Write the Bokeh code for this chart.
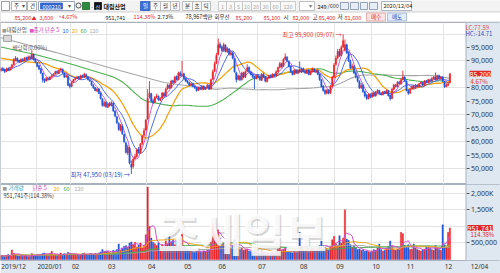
import numpy as np
import pandas as pd
from bokeh.plotting import figure
from bokeh.layouts import column
from bokeh.models import Range1d, FixedTicker, Label, Grid, NumeralTickFormatter, ColumnDataSource, Span
from bokeh.embed import file_html
from bokeh.resources import INLINE

# ---------------- data ----------------
months = ["2019/12", "2020/01", "02", "03", "04", "05", "06", "07", "08", "09", "10", "11", "12"]
month_days = [20, 19, 20, 22, 20, 19, 22, 23, 20, 20, 19, 21, 4]
last_date_label = "12/04"

open_k = [
    86.5, 87.2, 86.8, 86.2, 87.3, 86.6, 87.6, 88.6, 90.2, 91.0, 90.2, 89.6, 90.6, 90.1, 91.2, 90.6, 91.6, 90.8, 92.4, 90.6,
    89.3, 88.2, 87.1, 85.4, 83.2, 82.6, 83.6, 83.1, 84.0, 84.6, 85.1, 86.1, 85.4, 86.6, 86.9, 85.4, 84.0, 84.3, 81.2,
    80.6, 82.1, 83.0, 83.6, 84.1, 83.4, 84.6, 83.9, 85.0, 84.1, 83.0, 82.4, 81.0, 80.1, 78.8, 79.6, 78.1, 75.9, 73.3, 74.6,
    72.8, 74.2, 73.4, 74.3, 71.3, 69.2, 66.8, 64.3, 65.8, 62.6, 59.5, 55.8, 57.5, 51.5, 50.8, 53.8, 54.5, 57.2, 55.8, 59.3, 62.4, 64.3,
    68.5, 76.5, 77.8, 75.2, 74.6, 76.6, 76.8, 75.4, 76.2, 78.0, 77.0, 79.6, 81.0, 80.0, 82.6, 82.0, 84.2, 83.0, 85.6, 84.6,
    85.2, 83.6, 82.6, 82.0, 81.0, 81.6, 80.6, 80.0, 79.0, 80.1, 79.4, 80.6, 79.4, 80.1, 81.0, 79.6, 83.2, 86.2, 89.2,
    92.5, 96.2, 95.2, 93.8, 95.8, 93.4, 94.4, 92.3, 93.0, 90.8, 85.6, 83.2, 84.4, 83.0, 85.6, 84.0, 86.2, 87.6, 86.0, 85.0, 84.1, 83.4,
    84.6, 84.1, 82.8, 85.0, 84.0, 82.4, 83.6, 84.6, 84.0, 85.0, 84.4, 86.1, 87.6, 89.0, 88.0, 90.6, 91.4, 89.8, 88.0, 86.0, 85.0, 86.6, 85.4,
    86.6, 85.8, 87.2, 86.0, 85.4, 86.6, 85.0, 86.0, 87.0, 85.8, 86.5, 85.0, 83.0, 80.6, 79.0, 78.0, 79.2, 78.0, 80.6, 84.0,
    88.8, 91.2, 93.6, 92.0, 95.2, 94.0, 96.0, 93.2, 90.0, 87.4, 88.0, 85.6, 84.0, 82.4, 80.0, 81.0, 78.5, 77.2, 76.0, 77.5,
    76.6, 78.1, 77.0, 78.4, 79.0, 78.0, 77.5, 78.6, 78.0, 79.0, 77.2, 76.0, 79.4, 81.0, 80.5, 82.1, 81.5, 83.1, 84.0,
    82.5, 79.0, 78.0, 79.6, 80.5, 80.0, 81.0, 80.4, 81.6, 82.0, 81.0, 82.6, 82.0, 83.0, 82.6, 83.4, 84.0, 83.0, 84.6, 83.4, 84.0,
    82.3, 80.4, 81.0, 82.0,
]
high_k = [
    87.6, 87.8, 87.2, 87.5, 87.6, 87.9, 88.9, 91.0, 91.8, 91.3, 90.5, 91.0, 91.0, 91.5, 91.6, 92.0, 92.0, 94.0, 92.8, 90.9,
    89.6, 88.5, 87.4, 85.6, 83.5, 84.0, 83.9, 84.4, 85.0, 85.5, 86.4, 86.5, 86.9, 87.5, 87.2, 85.7, 85.0, 84.6, 81.8,
    82.4, 83.3, 83.9, 84.5, 84.4, 84.9, 84.9, 85.6, 85.3, 84.2, 83.3, 82.6, 81.3, 80.3, 79.9, 79.9, 78.3, 76.1, 75.2, 75.0,
    74.4, 74.8, 75.0, 74.6, 71.8, 69.6, 67.2, 66.5, 66.4, 63.0, 60.0, 58.8, 58.0, 53.0, 54.0, 55.5, 57.5, 58.0, 59.5, 62.5, 65.0, 68.5,
    79.5, 82.5, 78.2, 76.0, 77.0, 77.8, 77.2, 76.5, 78.5, 78.4, 80.0, 81.5, 81.3, 83.0, 83.0, 84.5, 84.6, 86.0, 86.2, 90.0,
    85.6, 84.0, 83.0, 82.3, 82.0, 81.9, 80.9, 80.3, 80.4, 80.5, 81.0, 80.9, 80.4, 81.5, 81.3, 83.4, 86.8, 89.8, 93.0,
    98.3, 97.0, 95.8, 96.8, 96.2, 95.2, 94.8, 93.6, 93.4, 91.0, 86.0, 85.0, 84.8, 86.0, 86.0, 86.5, 88.8, 88.0, 86.4, 85.5, 84.6, 84.9,
    85.0, 84.5, 85.5, 85.6, 84.3, 83.9, 84.9, 85.0, 85.4, 85.3, 86.5, 87.9, 89.6, 89.4, 91.0, 92.8, 91.8, 90.2, 88.3, 86.4, 86.9, 87.0, 87.0,
    89.8, 87.6, 87.5, 86.4, 87.0, 86.9, 86.5, 87.6, 87.3, 86.9, 86.8, 85.3, 83.2, 81.0, 79.5, 79.6, 79.5, 81.0, 84.5, 89.2,
    92.0, 94.5, 94.5, 95.8, 99.9, 98.0, 96.4, 93.6, 90.5, 89.0, 88.4, 86.0, 84.5, 82.8, 81.8, 81.4, 79.0, 77.8, 78.0, 78.0,
    78.4, 78.5, 78.8, 79.5, 79.3, 78.3, 78.8, 78.9, 79.4, 79.2, 77.5, 79.9, 81.5, 81.4, 82.5, 82.6, 83.5, 86.4, 84.3,
    82.8, 79.5, 79.9, 80.9, 81.0, 81.4, 81.3, 81.8, 82.4, 82.3, 82.9, 82.9, 83.4, 83.3, 84.0, 84.4, 85.7, 84.9, 84.9, 84.4, 84.3,
    82.6, 81.8, 82.0, 85.4,
]
low_k = [
    86.0, 86.2, 85.5, 85.8, 86.2, 86.4, 87.3, 88.4, 89.9, 89.7, 89.2, 89.3, 89.8, 89.9, 90.2, 90.4, 90.8, 90.7, 90.2, 89.2,
    87.7, 86.6, 85.1, 82.0, 81.8, 82.3, 82.7, 82.9, 83.8, 84.3, 84.9, 85.2, 85.2, 86.3, 85.2, 83.7, 83.8, 80.6, 79.8,
    80.2, 81.8, 82.7, 83.3, 83.2, 83.1, 83.7, 83.7, 83.8, 82.8, 82.2, 80.8, 79.6, 78.7, 78.5, 77.7, 75.7, 73.0, 73.0, 72.6,
    72.5, 73.0, 73.1, 71.0, 69.0, 66.5, 64.0, 63.8, 62.5, 59.5, 55.5, 55.0, 51.5, 47.95, 50.0, 53.0, 54.0, 55.5, 55.5, 58.8, 61.8, 64.0,
    68.0, 76.0, 74.6, 74.0, 74.3, 76.2, 75.2, 75.0, 75.9, 76.8, 76.8, 79.3, 79.6, 79.8, 81.6, 81.8, 82.8, 82.8, 84.2, 84.3,
    83.2, 82.2, 81.5, 80.6, 80.7, 80.2, 79.6, 78.6, 78.8, 79.1, 79.1, 79.2, 79.2, 79.8, 79.2, 79.4, 82.9, 85.8, 88.8,
    92.0, 94.6, 93.4, 93.4, 93.2, 93.0, 92.0, 92.0, 90.6, 85.6, 82.0, 82.8, 82.5, 82.7, 83.6, 83.6, 85.8, 85.7, 84.6, 83.6, 79.6, 83.1,
    83.6, 82.6, 82.5, 83.6, 82.0, 82.0, 83.3, 83.6, 83.7, 84.2, 84.2, 85.8, 87.3, 87.5, 87.8, 90.2, 89.7, 87.6, 85.7, 84.6, 84.8, 85.2, 85.1,
    85.6, 85.5, 85.7, 85.2, 85.1, 84.6, 84.7, 85.7, 85.7, 85.5, 84.7, 82.6, 80.1, 78.6, 77.4, 77.6, 77.6, 77.8, 80.3, 83.6,
    88.2, 90.6, 91.5, 91.8, 94.8, 93.5, 92.6, 89.6, 87.0, 87.0, 85.1, 83.6, 82.0, 79.6, 79.6, 78.2, 76.4, 75.5, 75.7, 76.1,
    76.3, 76.7, 76.7, 78.1, 77.6, 77.1, 77.2, 77.7, 77.7, 76.8, 75.3, 75.8, 79.1, 80.1, 80.2, 81.2, 81.2, 82.8, 82.2,
    78.7, 77.4, 77.8, 79.4, 79.7, 79.6, 80.2, 80.1, 81.4, 80.7, 80.8, 81.8, 81.7, 82.2, 82.3, 83.1, 82.8, 82.8, 83.2, 83.1, 82.2,
    80.0, 80.2, 80.6, 81.6,
]
close_k = [
    87.0, 86.5, 86.0, 87.0, 86.5, 87.5, 88.5, 90.5, 91.0, 90.0, 89.5, 90.5, 90.0, 91.0, 90.5, 91.5, 91.0, 92.5, 90.5, 89.5,
    88.0, 87.0, 85.5, 83.0, 82.5, 83.5, 83.0, 84.0, 84.5, 85.0, 86.0, 85.5, 86.5, 87.0, 85.5, 84.0, 84.5, 81.0, 80.5,
    82.0, 83.0, 83.5, 84.0, 83.5, 84.5, 84.0, 85.0, 84.0, 83.0, 82.5, 81.0, 80.0, 79.0, 79.5, 78.0, 76.0, 73.5, 74.5, 73.0,
    74.0, 73.5, 74.5, 71.5, 69.5, 67.0, 64.5, 66.0, 63.0, 60.0, 56.0, 58.0, 52.0, 50.5, 53.5, 54.5, 57.0, 56.0, 59.0, 62.0, 64.0, 68.0,
    76.0, 78.0, 75.0, 74.5, 76.5, 77.0, 75.5, 76.0, 78.0, 77.0, 79.5, 81.0, 80.0, 82.5, 82.0, 84.0, 83.0, 85.5, 84.5, 85.0,
    83.5, 82.5, 82.0, 81.0, 81.5, 80.5, 80.0, 79.0, 80.0, 79.5, 80.5, 79.5, 80.0, 81.0, 79.5, 83.0, 86.0, 89.0, 92.0,
    96.0, 95.0, 94.0, 96.0, 93.5, 94.5, 92.5, 93.0, 91.0, 86.0, 83.0, 84.5, 83.0, 85.5, 84.0, 86.0, 87.5, 86.0, 85.0, 84.0, 83.5, 84.5,
    84.0, 83.0, 85.0, 84.0, 82.5, 83.5, 84.5, 84.0, 85.0, 84.5, 86.0, 87.5, 89.0, 88.0, 90.5, 91.5, 90.0, 88.0, 86.0, 85.0, 86.5, 85.5, 86.5,
    86.0, 87.0, 86.0, 85.5, 86.5, 85.0, 86.0, 87.0, 86.0, 86.5, 85.0, 83.0, 80.5, 79.0, 78.0, 79.0, 78.0, 80.5, 84.0, 88.5,
    91.0, 93.5, 92.0, 95.0, 97.5, 96.0, 93.0, 90.0, 87.5, 88.0, 85.5, 84.0, 82.5, 80.0, 81.0, 78.5, 77.0, 76.0, 77.5, 76.5,
    78.0, 77.0, 78.5, 79.0, 78.0, 77.5, 78.5, 78.0, 79.0, 77.0, 76.0, 79.5, 81.0, 80.5, 82.0, 81.5, 83.0, 84.0, 82.5,
    79.0, 78.0, 79.5, 80.5, 80.0, 81.0, 80.5, 81.5, 82.0, 81.0, 82.5, 82.0, 83.0, 82.5, 83.5, 84.0, 83.0, 84.5, 83.5, 84.0, 82.5,
    80.5, 81.0, 81.4, 85.2,
]
volume_k = [
    120, 110, 100, 130, 150, 110, 290, 180, 140, 120, 110, 130, 100, 110, 120, 90, 100, 180, 140, 110,
    150, 130, 160, 180, 200, 170, 150, 180, 250, 130, 140, 120, 150, 200, 130, 180, 140, 220, 190,
    170, 150, 140, 160, 130, 150, 180, 200, 140, 160, 170, 180, 150, 190, 160, 200, 230, 300, 240, 260,
    250, 210, 200, 280, 260, 300, 470, 280, 350, 400, 420, 380, 500, 530, 450, 520, 380, 440, 500, 350, 420, 750,
    2190, 1000, 650, 520, 480, 420, 500, 380, 450, 400, 560, 480, 700, 520, 600, 450, 580, 420, 640, 760,
    420, 380, 300, 280, 260, 240, 220, 300, 260, 240, 220, 260, 240, 280, 300, 520, 1050, 800, 700,
    900, 650, 550, 500, 450, 400, 380, 350, 420, 600, 500, 380, 300, 350, 280, 300, 320, 260, 240, 220, 260, 230,
    200, 180, 260, 220, 180, 160, 200, 180, 220, 200, 250, 320, 380, 280, 300, 360, 260, 240, 220, 200, 230, 210, 220,
    820, 400, 300, 260, 280, 240, 300, 350, 280, 260, 300, 420, 560, 420, 380, 300, 280, 400, 600, 700,
    480, 420, 720, 500, 650, 1500, 620, 580, 450, 380, 420, 350, 300, 320, 280, 300, 250, 260, 240, 220,
    260, 300, 280, 350, 470, 300, 260, 280, 350, 400, 560, 420, 300, 280, 320, 300, 820, 780, 420,
    380, 450, 300, 320, 470, 350, 300, 280, 260, 300, 320, 380, 400, 350, 300, 280, 420, 360, 300, 280, 1050,
    450, 380, 820, 951.741,
]
ma20_head_idx = [0, 10]
ma20_head_val = [91.0, 89.9]
ma60_head_idx = [0, 20, 40]
ma60_head_val = [95.2, 92.2, 88.6]
ma120_head_idx = [0, 30, 60, 90, 105]
ma120_head_val = [98.6, 93.2, 87.5, 82.0, 80.6]

price_ticks = [50000, 55000, 60000, 65000, 70000, 75000, 80000, 90000, 95000]
price_grid = [50000, 60000, 70000, 80000, 90000, 100000]
vol_ticks = [500, 1500, 2000]
vol_tick_labels = ["500,000", "1,500K", "2,000K"]
vol_grid = [500, 1000, 1500, 2000]

# ---------------- derived ----------------
n = len(close_k)
idx = np.arange(n)
O = np.array(open_k) * 1000
H = np.array(high_k) * 1000
L = np.array(low_k) * 1000
C = np.array(close_k) * 1000
V = np.array(volume_k, dtype=float)
UP, DN = "#e8262c", "#2256d8"
col = [UP if c >= o else DN for o, c in zip(O, C)]
src = ColumnDataSource(dict(x=idx, o=O, h=H, l=L, c=C, v=V, col=col,
                            top=np.maximum(O, C), bot=np.minimum(O, C)))
cs = pd.Series(C)
vs = pd.Series(V)
starts = np.cumsum([0] + month_days[:-1])

PANEL = "#dfe7f1"
KR = "Noto Sans CJK KR"
FS = "5.5px"

X0 = -0.3
XS = 465.0 / (256.6 - X0)          # pixels per trading day
XE = X0 + 500.0 / XS               # frame spans the full width (right panel included)
P_TOP, P_BOT = 104300.0, 44050.0
PS = 162.0 / (P_TOP - P_BOT)
V_TOP, V_BOT = 2265.0, -29.0
VS = 78.0 / (V_TOP - V_BOT)


def xd(px):
    return X0 + px / XS


def yp(py):
    return P_TOP - (py - 22) / PS


def yv(py):
    return V_TOP - (py - 184) / VS


def T(fig, x, y, s, color="#222222", size=FS, align="left", bold=False, **kw):
    fig.add_layout(Label(x=x, y=y, text=s, text_color=color, text_font=KR, text_font_size=size,
                         text_align=align, text_baseline="middle",
                         text_font_style="bold" if bold else "normal", **kw))


def style_right_axis(ax):
    ax.fixed_location = xd(465.5)
    ax.axis_line_color = None
    ax.major_tick_out = 3
    ax.major_tick_in = 0
    ax.major_tick_line_color = "#555555"
    ax.minor_tick_line_color = None
    ax.major_label_text_font_size = "7px"
    ax.major_label_text_font = "Noto Sans"
    ax.major_label_text_color = "#333333"
    ax.major_label_standoff = 2


# ---------------- header (toolbar) ----------------
hdr = figure(width=500, height=22, x_range=Range1d(0, 500), y_range=Range1d(22, 0),
             x_axis_location=None, y_axis_location=None, output_backend="svg", toolbar_location=None,
             min_border=0, outline_line_color=None, background_fill_color="#f2f2f2",
             border_fill_color="#f2f2f2")
hdr.grid.visible = False
boxes = [
    (1, 9, 1, 10, "#ffffff", "#8a8a8a"),
    (11, 26, 1, 10, "#ffffff", "#a0a0a0"),
    (27, 36, 1, 10, "#ffffff", "#a0a0a0"),
    (38, 74, 1, 10, "#ffffff", "#8090a8"),
    (40, 62, 2.5, 8.5, "#3366cc", "#3366cc"),
    (82, 89, 2, 9, "#2e8b3e", "#1d6b2a"),
    (94, 101, 2, 9, "#111111", "#111111"),
    (140, 150, 1, 10, "#3b6fd8", "#2c5bbf"),
    (150, 160, 1, 10, "#f8f8f8", "#b0b0b0"),
    (160, 170, 1, 10, "#f8f8f8", "#b0b0b0"),
    (170, 179, 1, 10, "#f8f8f8", "#b0b0b0"),
    (182, 192, 1, 10, "#f8f8f8", "#b0b0b0"),
    (192, 201, 1, 10, "#f8f8f8", "#b0b0b0"),
    (201, 210, 1, 10, "#f8f8f8", "#b0b0b0"),
    (218, 226, 1, 10, "#f8f8f8", "#c0c0c0"),
    (226, 234, 1, 10, "#f8f8f8", "#c0c0c0"),
    (234, 242, 1, 10, "#f8f8f8", "#c0c0c0"),
    (242, 251, 1, 10, "#f8f8f8", "#c0c0c0"),
    (251, 260, 1, 10, "#f8f8f8", "#c0c0c0"),
    (260, 270, 1, 10, "#f8f8f8", "#c0c0c0"),
    (270, 280, 1, 10, "#f8f8f8", "#c0c0c0"),
    (280, 295, 1, 10, "#f8f8f8", "#c0c0c0"),
    (299, 314, 1, 10, "#ffffff", "#b0b0b0"),
    (340, 348, 2, 9, "#e8eef8", "#7f8fa8"),
    (350, 358, 2, 9, "#e8eef8", "#7f8fa8"),
    (360, 367, 2, 9, "#e8eef8", "#7f8fa8"),
    (369, 377, 2, 9, "#e8eef8", "#7f8fa8"),
    (381, 411, 1, 10, "#ffffff", "#9aa6b8"),
    (0, 500, 11.5, 21.5, "#ffffff", "#c8c8c8"),
    (366, 385, 12.5, 20.5, "#fbe3e3", "#e0a0a0"),
    (387, 406, 12.5, 20.5, "#e2ebfa", "#a0b4d8"),
]
hdr.quad(left=[b[0] for b in boxes], right=[b[1] for b in boxes], top=[b[2] for b in boxes],
         bottom=[b[3] for b in boxes], fill_color=[b[4] for b in boxes], line_color=[b[5] for b in boxes],
         line_width=0.8)
T(hdr, 13.5, 5.7, "주")
T(hdr, 21, 5.7, "▾", color="#555")
T(hdr, 29.5, 5.7, "견")
T(hdr, 42, 5.7, "000210", color="white")
T(hdr, 67, 5.7, "▾", color="#555")
hdr.scatter([78], [5], size=5, marker="circle", fill_color=None, line_color="#555")
T(hdr, 90.5, 5.7, "-", color="#555")
T(hdr, 95, 5.7, "신", color="white", size="5px")
T(hdr, 103, 5.7, "대림산업", bold=True, color="#111", size="6px")
for xx, s in [(145, "일"), (155, "주"), (165, "월"), (174.5, "년"), (187, "분"), (196.5, "초"), (205.5, "틱")]:
    T(hdr, xx, 5.7, s, align="center", color="white" if s == "일" else "#333")
for xx, s in [(222, "1"), (230, "3"), (238, "5"), (246.5, "10"), (255.5, "20"), (265, "30"), (275, "60"), (287.5, "120")]:
    T(hdr, xx, 5.7, s, align="center", color="#aaaaaa")
T(hdr, 308, 5.7, "▾", color="#777")
T(hdr, 317, 5.7, "249")
T(hdr, 327, 5.7, "/600", color="#444")
T(hdr, 383, 5.7, "2020/12/04")
T(hdr, 14, 16.5, "85,200", color="#e0282e")
T(hdr, 31, 16.5, "▲", color="#e0282e", size="5px")
T(hdr, 39, 16.5, "3,800", color="#e0282e")
T(hdr, 58, 16.5, "+4.67%", color="#e0282e")
T(hdr, 105, 16.5, "951,741", color="#222")
T(hdr, 133, 16.5, "114.38%", color="#e0282e")
T(hdr, 157, 16.5, "2.73%", color="#222")
T(hdr, 185, 16.5, "78,967백만", color="#222")
T(hdr, 214, 16.5, "회우선", color="#222")
T(hdr, 235, 16.5, "85,200", color="#e0282e")
T(hdr, 263, 16.5, "85,100", color="#e0282e")
T(hdr, 283, 16.5, "시", color="#222")
T(hdr, 292, 16.5, "82,000", color="#e0282e")
T(hdr, 312, 16.5, "고", color="#222")
T(hdr, 318, 16.5, "85,400", color="#e0282e")
T(hdr, 337, 16.5, "저", color="#222")
T(hdr, 344, 16.5, "81,600", color="#e0282e")
T(hdr, 375.5, 16.5, "매수", color="#d02020", align="center")
T(hdr, 396.5, 16.5, "매도", color="#2040b0", align="center")

# ---------------- price panel ----------------
p = figure(width=500, height=162, x_range=Range1d(X0, XE), y_range=Range1d(P_BOT, P_TOP),
           x_axis_location=None, y_axis_location="right", output_backend="svg", toolbar_location=None,
           min_border=0, border_fill_color=PANEL, background_fill_color="white",
           outline_line_color="#a9b3bf")
p.grid.visible = False
p.add_layout(Grid(dimension=1, ticker=FixedTicker(ticks=price_grid), grid_line_color="#e3e3e3"))
p.add_layout(Grid(dimension=0, ticker=FixedTicker(ticks=[s - 0.5 for s in starts]), grid_line_color="#e3e3e3"))
p.quad(left=[xd(465.5)], right=[XE], bottom=[P_BOT], top=[P_TOP], fill_color=PANEL, line_color=None)
p.add_layout(Span(location=xd(465.5), dimension="height", line_color="#a9b3bf", line_width=1))
ya = p.yaxis[0]
ya.ticker = FixedTicker(ticks=price_ticks)
ya.formatter = NumeralTickFormatter(format="0,0")
style_right_axis(ya)

# moving averages
ma5 = cs.rolling(5, min_periods=1).mean()
ma10 = cs.rolling(10, min_periods=1).mean()
ma20 = cs.rolling(20).mean()
ma60 = cs.rolling(60).mean()
ma120 = cs.rolling(120).mean()
x20 = list(ma20_head_idx) + list(idx[19:])
y20 = [v * 1000 for v in ma20_head_val] + list(ma20.values[19:])
x60 = list(ma60_head_idx) + list(idx[59:])
y60 = [v * 1000 for v in ma60_head_val] + list(ma60.values[59:])
x120 = list(ma120_head_idx) + list(idx[119:])
y120 = [v * 1000 for v in ma120_head_val] + list(ma120.values[119:])
p.line(x120, y120, line_color="#a8a8a8", line_width=1.1)
p.line(x60, y60, line_color="#4caf50", line_width=1.1)
p.line(x20, y20, line_color="#f2a413", line_width=1.3)
p.line(idx, ma10.values, line_color="#3d5ee0", line_width=0.9)
p.line(idx, ma5.values, line_color="#b84fd0", line_width=0.9)

p.segment(x0="x", y0="l", x1="x", y1="h", line_color="col", line_width=0.9, source=src)
p.vbar(x="x", top="top", bottom="bot", width=0.72, fill_color="col", line_color="col",
       line_width=0.5, source=src)

# texts in price panel
T(p, xd(1.5), yp(29.5), "■", color="#9a9a9a", size="4.5px")
T(p, xd(6), yp(29.5), "대림산업", color="#444444")
T(p, xd(29), yp(29.5), "■", color="#e052c8", size="4.5px")
T(p, xd(33), yp(29.5), "종가 단순 5", color="#d03ab8")
T(p, xd(62), yp(29.5), "10", color="#3050e0")
T(p, xd(71), yp(29.5), "20", color="#f0a020")
T(p, xd(80), yp(29.5), "60", color="#3aa845")
T(p, xd(89), yp(29.5), "120", color="#a8a8a8")
p.quad(left=[xd(3)], right=[xd(11)], top=[yp(35)], bottom=[yp(41)], fill_color="#d8d8d8",
       line_color="#909090", line_width=0.8)
T(p, xd(12), yp(47.5), "배당락(0.00%)", color="#555555")
ih = int(np.argmax(H))
il = int(np.argmin(L))
T(p, ih - 0.8, H[ih], "최고 99,900 (09/07) →", color="#e03a3a", size="6px", align="right")
T(p, il - 0.8, L[il], "최저 47,950 (03/19) →", color="#2b3fc0", size="6px", align="right")
T(p, xd(465), yp(26.5), "LC:77.59", color="#e05050", size="6px")
T(p, xd(465), yp(33), "HC:-14.71", color="#3050c0", size="6px")
T(p, xd(469), C[-1], "85,200", color="white", size="7px", background_fill_color="#e02828")
T(p, xd(470), yp(81), "4.67%", color="#e02828", size="6px")

# ---------------- volume panel ----------------
v = figure(width=500, height=89, x_range=p.x_range, y_range=Range1d(V_BOT, V_TOP),
           x_axis_location="below", y_axis_location="right", output_backend="svg", toolbar_location=None,
           min_border_left=0, min_border_right=0, min_border_top=0, min_border_bottom=11,
           border_fill_color=PANEL, background_fill_color="white", outline_line_color="#a9b3bf")
v.grid.visible = False
v.add_layout(Grid(dimension=1, ticker=FixedTicker(ticks=vol_grid), grid_line_color="#e3e3e3"))
v.add_layout(Grid(dimension=0, ticker=FixedTicker(ticks=[s - 0.5 for s in starts]), grid_line_color="#e3e3e3"))
v.quad(left=[xd(465.5)], right=[XE], bottom=[V_BOT], top=[V_TOP], fill_color=PANEL, line_color=None)
v.add_layout(Span(location=xd(465.5), dimension="height", line_color="#a9b3bf", line_width=1))
vy = v.yaxis[0]
vy.ticker = FixedTicker(ticks=vol_ticks)
vy.major_label_overrides = {t: s for t, s in zip(vol_ticks, vol_tick_labels)}
style_right_axis(vy)

label_pos = []
label_txt = []
for s, m in zip(starts, months):
    w = 3.4 * len(m)
    px = (s - 0.5 - X0) * XS + 1.5 + w / 2
    label_pos.append(round(xd(px), 3))
    label_txt.append(m)
label_pos.append(round(xd(479), 3))
label_txt.append(last_date_label)
vx = v.xaxis[0]
vx.ticker = FixedTicker(ticks=label_pos)
vx.major_label_overrides = {t: m for t, m in zip(label_pos, label_txt)}
vx.axis_line_color = None
vx.major_tick_out = 0
vx.major_tick_in = 0
vx.minor_tick_line_color = None
vx.major_label_text_font_size = "6.5px"
vx.major_label_text_font = "Noto Sans"
vx.major_label_text_color = "#333333"
vx.major_label_standoff = 1

v.vbar(x="x", top="v", bottom=0, width=0.75, fill_color="col", line_color="col", line_width=0.4, source=src)
v.line(idx, vs.rolling(120, min_periods=1).mean().values, line_color="#a8a8a8", line_width=1)
v.line(idx, vs.rolling(60, min_periods=1).mean().values, line_color="#4caf50", line_width=1)
v.line(idx, vs.rolling(20, min_periods=1).mean().values, line_color="#f2a413", line_width=1)
v.line(idx, vs.rolling(5, min_periods=1).mean().values, line_color="#d04fd0", line_width=1)

T(v, xd(2), yv(188), "■", color="#9a9a9a", size="4.5px")
T(v, xd(8), yv(188), "거래량", color="#27a3b5")
T(v, xd(32), yv(188), "단순 5", color="#d03ab8")
T(v, xd(53), yv(188), "20", color="#f0a020")
T(v, xd(63), yv(188), "60", color="#3aa845")
T(v, xd(74), yv(188), "120", color="#a8a8a8")
T(v, xd(3), yv(195.5), "951,741주(114.38%)", color="#333333")
T(v, xd(243.5), yv(233.5), "조세일보", color="#8c8c8c", size="46px", align="center", bold=True, text_alpha=0.35)
T(v, xd(242), yv(232), "조세일보", color="#ffffff", size="46px", align="center", bold=True, text_alpha=0.85)
T(v, xd(467), V[-1], "951,741", color="white", size="7px", background_fill_color="#e02828")
T(v, xd(470), yv(235.5), "114.38%", color="#e02828", size="6px")

layout = column(hdr, p, v, spacing=0)
open("out.html", "w").write(file_html(layout, INLINE))
